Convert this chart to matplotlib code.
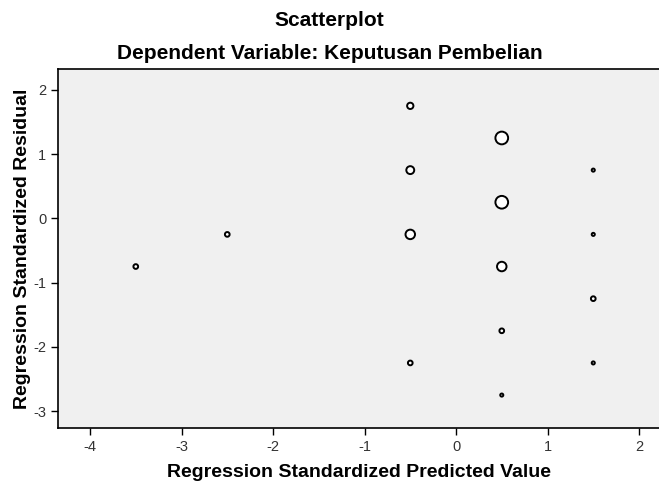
import matplotlib.pyplot as plt

plt.rcParams['font.family'] = ['Liberation Sans', 'DejaVu Sans']
plt.rcParams['axes.unicode_minus'] = False

# predicted value, residual, number of cases at each point
pred = [-3.5, -2.5, -0.5, -0.5, -0.5, -0.5, 0.5, 0.5, 0.5, 0.5, 0.5, 1.5, 1.5, 1.5, 1.5]
resid = [-0.75, -0.25, 1.75, 0.75, -0.25, -2.25, 1.25, 0.25, -0.75, -1.75, -2.75, 0.75, -0.25, -1.25, -2.25]
counts = [2, 2, 3, 4, 5, 2, 7, 7, 5, 2, 1, 1, 1, 2, 1]

xticks = [-4, -3, -2, -1, 0, 1, 2]
yticks = [-3, -2, -1, 0, 1, 2]


def marker_size(n):
    # diameter in pixels grows with the count
    d = 1.5 + 1.6 * n
    d = d * 0.72
    return d * d


fig = plt.figure(figsize=(6.59, 4.84), dpi=100)
ax = fig.add_axes([0.088, 0.116, 0.915, 0.741])
ax.set_facecolor('#f0f0f0')

sizes = [marker_size(c) for c in counts]
ax.scatter(pred, resid, s=sizes, facecolors='white', edgecolors='black', linewidths=1.4, zorder=3)

ax.set_xlim(-4.35, 2.24)
ax.set_ylim(-3.26, 2.32)
ax.set_xticks(xticks)
ax.set_yticks(yticks)
ax.spines['right'].set_visible(False)
for s in ['left', 'bottom', 'top']:
    ax.spines[s].set_linewidth(1.2)
ax.tick_params(direction='out', length=5, width=1, labelsize=10.5, colors='black', labelcolor='#333333')

fig.text(0.5, 0.958, "Scatterplot", ha='center', va='center', fontsize=15, fontweight='bold')
fig.text(0.5, 0.89, "Dependent Variable: Keputusan Pembelian", ha='center', va='center', fontsize=15, fontweight='bold')
ax.set_xlabel("Regression Standardized Predicted Value", fontsize=14, fontweight='bold')
ax.set_ylabel("Regression Standardized Residual", fontsize=14, fontweight='bold')
ax.xaxis.set_label_coords(0.545, 0.024, transform=fig.transFigure)
ax.xaxis.label.set_va('center')
ax.yaxis.set_label_coords(0.034, 0.486, transform=fig.transFigure)
ax.yaxis.label.set_va('center')

fig.savefig("out.png", dpi=100)
